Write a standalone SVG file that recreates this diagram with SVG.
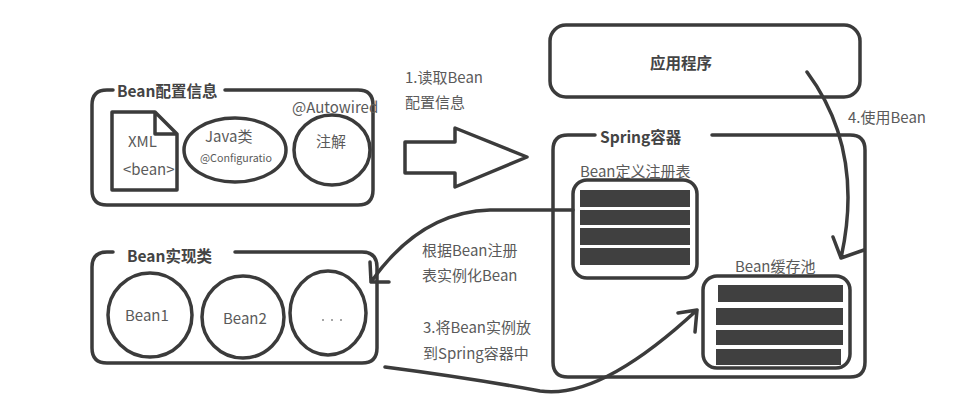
<svg xmlns="http://www.w3.org/2000/svg" width="972" height="404" viewBox="0 0 972 404">
<style>
.s{fill:none;stroke:#3b3b3b;stroke-width:3.5;stroke-linecap:round;stroke-linejoin:round}
.row{fill:#404040}
.t{font-family:"Noto Sans CJK SC","Noto Sans",sans-serif;font-size:15px;fill:#5a5a5a}
.b{font-family:"Noto Sans CJK SC","Noto Sans",sans-serif;font-size:15.5px;font-weight:bold;fill:#444}
.sm{font-family:"Noto Sans CJK SC","Noto Sans",sans-serif;font-size:10.7px;fill:#5a5a5a}
</style>
<rect width="972" height="404" fill="#fff"/>
<g id="config">
<path class="s" d="M113,90 H107 Q92,90 92,105 V190 Q92,205 107,205 H358 Q373,205 373,190 V105 Q373,90 358,90 H225"/>
<text class="b" x="117" y="97">Bean配置信息</text>
<path class="s" d="M112,112 H155 L177,134 V190 H112 Z M155,112 V134 H177"/>
<text class="t" x="128" y="147">XML</text>
<text class="t" x="123" y="175">&lt;bean&gt;</text>
<ellipse class="s" cx="235" cy="150" rx="51" ry="32"/>
<text class="t" x="205" y="142">Java类</text>
<text class="sm" x="200" y="162">@Configuratio</text>
<ellipse class="s" cx="332" cy="150" rx="38" ry="35"/>
<text class="t" x="292" y="113" font-size="14" fill="#333">@Autowired</text>
<text class="t" x="316" y="147">注解</text>
</g>
<g id="impl">
<path class="s" d="M113,252 H107 Q92,252 92,267 V348 Q92,363 107,363 H362 Q377,363 377,348 V267 Q377,252 362,252 H235"/>
<text class="b" x="127" y="262">Bean实现类</text>
<circle class="s" cx="150" cy="315" r="42"/>
<text class="t" x="125" y="321">Bean1</text>
<circle class="s" cx="243" cy="317" r="41"/>
<text class="t" x="223" y="324">Bean2</text>
<ellipse class="s" cx="328" cy="313" rx="38" ry="42"/>
<g fill="#888"><circle cx="323" cy="320" r="1"/><circle cx="332" cy="320" r="1"/><circle cx="341" cy="320" r="1"/></g>
</g>
<g id="app">
<rect class="s" x="550" y="25" width="310" height="72" rx="16"/>
<text class="b" x="650" y="69" font-size="18">应用程序</text>
</g>
<g id="spring">
<path class="s" d="M595,135 H568 Q553,135 553,150 V362 Q553,377 568,377 H850 Q865,377 865,362 V150 Q865,135 850,135 H712"/>
<text class="b" x="600" y="143">Spring容器</text>
<g id="registry">
<text class="t" x="580" y="177">Bean定义注册表</text>
<rect class="s" x="573" y="180" width="124" height="98" rx="14"/>
<rect class="row" x="580" y="190" width="110" height="17"/>
<rect class="row" x="580" y="210" width="110" height="15"/>
<rect class="row" x="580" y="228" width="110" height="17"/>
<rect class="row" x="580" y="248" width="110" height="17"/>
</g>
<g id="cache">
<text class="t" x="735" y="272">Bean缓存池</text>
<rect class="s" x="703" y="276" width="147" height="92" rx="14"/>
<rect class="row" x="718" y="285" width="125" height="17"/>
<rect class="row" x="716" y="308" width="127" height="17"/>
<rect class="row" x="716" y="330" width="127" height="15"/>
<rect class="row" x="716" y="349" width="125" height="16"/>
</g>
</g>
<g id="connectors">
<path class="s" d="M405,142 H455 V128 L527,157 L455,187 V173 H405 Z"/>
<text class="t" x="405" y="83">1.读取Bean</text>
<text class="t" x="405" y="108">配置信息</text>
<path class="s" d="M807,72 Q865,150 841,258 M833,237 L841,258 L864,250"/>
<text class="t" x="848" y="123">4.使用Bean</text>
<path class="s" d="M573,210 H490 Q420,212 371,282 M370,262 L371,282 L389,282"/>
<text class="t" x="422" y="256">根据Bean注册</text>
<text class="t" x="422" y="281">表实例化Bean</text>
<path class="s" d="M385,367 Q470,378 540,391 Q600,400 697,310 M678,313 L697,310 L695,332"/>
<text class="t" x="423" y="333">3.将Bean实例放</text>
<text class="t" x="423" y="359">到Spring容器中</text>
</g>
</svg>
